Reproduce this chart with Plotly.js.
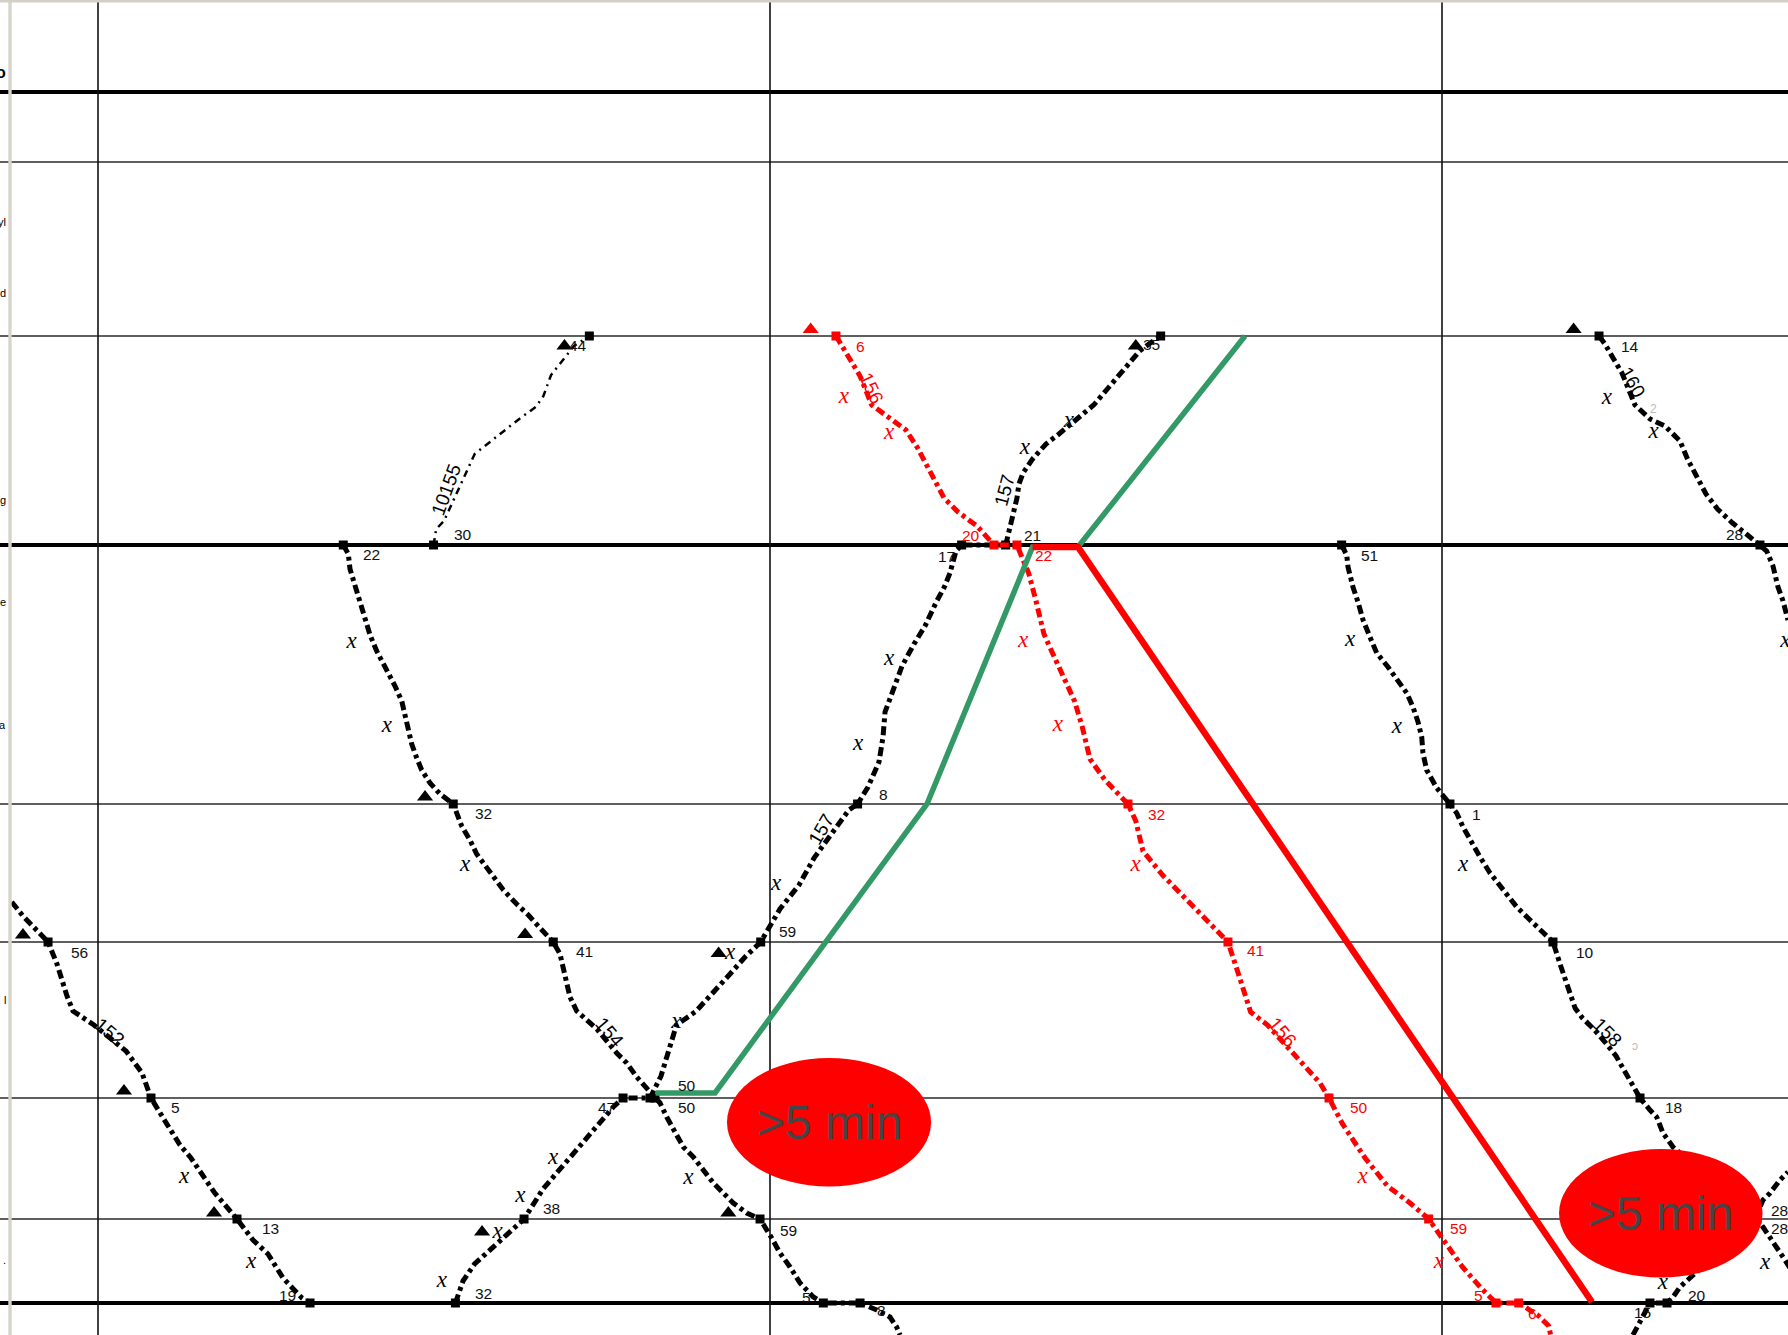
<!DOCTYPE html>
<html>
<head>
<meta charset="utf-8">
<script src="https://cdn.plot.ly/plotly-3.0.1.min.js"></script>
<style>html,body{margin:0;padding:0;background:#fff;}#chart{width:1788px;height:1335px;}</style>
</head>
<body>
<div id="chart"></div>
<script>
// ---- stations (distance, km) and hour lines (minutes) ----
const stationKm = [0, 7, 24.4, 45.3, 71.2, 85.0, 100.6, 112.7, 121.1];
const thickStations = [0, 3, 8];
const hourLines = [0, 60, 120];
const stationNameParts = ["o", "yl", "d", "ng", "pe", "a", "l", "."];
const stationNameKm = [-2.0, 13.0, 20.1, 40.8, 51.0, 63.3, 90.8, 116.8];

// ---- train paths: time (min) / distance (km) ----
const t152 = [-7.7, -6.7, -4.46, -3.66, -2.77, -2.23, -0.36, 2.5, 3.93, 4.73, 5.98, 7.32, 8.3, 10.36, 12.41, 13.84, 15.18, 16.52, 18.21, 18.93];
const km152 = [81.0, 82.4, 85.0, 87.2, 90.4, 91.9, 93.3, 95.9, 98.1, 100.6, 102.9, 105.3, 106.6, 110.0, 112.7, 114.8, 116.2, 118.6, 120.6, 121.1];

const t154 = [21.9, 22.35, 22.5, 22.95, 23.39, 23.84, 24.29, 24.88, 25.78, 26.52, 27.12, 27.41, 27.71, 28.01, 28.46, 28.9, 29.64, 30.54, 31.72, 32.47, 33.21, 33.81, 35.0, 36.19, 37.38, 38.42, 39.46, 40.65, 41.25, 41.54, 41.85, 42.14, 42.74, 43.63, 44.53, 46.31, 47.21, 48.1, 48.99, 49.73, 50.18, 50.78, 51.37, 52.26, 53.15, 54.04, 54.94, 55.83, 56.72, 57.92, 59.11, 60.15, 60.89, 61.79, 62.68, 63.87, 64.76, 68.04, 69.53, 70.71, 71.31, 71.61];
const km154 = [45.3, 46.2, 47.7, 49.4, 51.1, 52.8, 54.3, 55.9, 57.7, 59.4, 60.9, 62.3, 63.7, 65.2, 66.6, 67.8, 69.1, 70.2, 71.2, 73.4, 74.8, 76.2, 78.0, 79.8, 81.2, 82.3, 83.6, 85.0, 86.2, 87.7, 89.1, 90.5, 91.9, 92.8, 93.7, 96.1, 97.1, 98.5, 99.6, 100.6, 101.1, 102.5, 103.8, 105.5, 106.5, 107.8, 109.1, 110.1, 111.1, 112.1, 112.7, 114.6, 116.1, 117.5, 119.1, 120.5, 121.1, 121.1, 121.8, 122.5, 123.5, 124.3];

const t155 = [29.96, 30.2, 30.89, 33.63, 35.67, 37.72, 39.09, 39.77, 40.45, 41.48, 42.5, 43.87];
const km155 = [45.3, 43.7, 42.9, 36.2, 34.4, 32.6, 31.5, 30.4, 28.3, 26.9, 25.4, 24.4];

const t157 = [31.91, 32.59, 33.62, 35.98, 38.04, 39.73, 41.79, 43.53, 44.82, 46.01, 46.88, 49.29, 50.27, 51.65, 53.37, 55.09, 56.43, 57.77, 59.17, 60.89, 62.59, 63.93, 67.04, 67.82, 68.75, 69.73, 70.09, 70.27, 71.13, 71.79, 72.86, 73.84, 74.89, 75.57, 76.07, 76.61, 77.11, 81.04, 81.52, 81.88, 82.05, 82.23, 82.59, 83.44, 84.64, 85.8, 87.19, 88.9, 90.27, 91.61, 93.0, 94.02, 94.88];
const km157 = [121.1, 118.9, 117.2, 114.8, 112.7, 109.7, 107.0, 104.9, 103.2, 101.5, 100.6, 100.6, 98.4, 93.3, 91.95, 89.9, 88.2, 86.5, 85.0, 81.7, 79.3, 76.6, 71.8, 71.2, 69.5, 67.0, 64.5, 62.0, 59.5, 57.4, 55.2, 53.4, 50.9, 49.5, 48.1, 45.9, 45.3, 45.3, 43.1, 41.7, 40.6, 39.2, 38.1, 36.7, 35.2, 34.2, 32.9, 31.3, 29.5, 27.7, 25.9, 25.05, 24.4];

const t156 = [65.89, 67.04, 68.04, 69.08, 70.8, 72.14, 73.18, 74.55, 75.54, 76.79, 78.48, 80.0, 82.05, 82.41, 83.09, 83.75, 84.46, 85.14, 86.16, 87.19, 87.86, 88.57, 89.91, 91.96, 92.66, 93.3, 95.05, 98.39, 99.73, 100.89, 101.74, 102.41, 102.91, 104.42, 107.1, 109.11, 109.91, 111.12, 112.12, 113.13, 115.13, 117.14, 118.81, 120.15, 121.83, 123.48, 124.82, 126.85, 128.53, 129.53, 129.7];
const km156 = [24.4, 26.5, 28.4, 31.3, 32.7, 33.8, 35.6, 38.4, 40.6, 42.0, 43.4, 45.3, 45.3, 46.3, 48.1, 50.9, 54.2, 55.9, 58.4, 60.9, 63.4, 66.7, 68.8, 71.2, 72.9, 75.9, 78.3, 82.1, 83.8, 85.0, 87.9, 90.3, 92.0, 93.3, 96.7, 99.1, 100.6, 103.2, 104.9, 106.6, 109.4, 111.1, 112.7, 114.8, 117.5, 119.6, 121.1, 121.1, 122.3, 123.4, 124.3];

const t158 = [111.04, 111.49, 111.61, 112.05, 112.5, 112.95, 113.57, 114.17, 115.18, 115.96, 116.85, 117.41, 117.86, 118.19, 118.3, 118.63, 119.53, 120.42, 120.71, 121.31, 121.88, 122.5, 123.39, 124.29, 125.45, 126.67, 127.86, 129.02, 129.91, 130.54, 131.04, 131.52, 131.88, 132.54, 133.54, 134.55, 135.54, 136.22, 136.88, 137.68, 138.57, 139.17, 139.73, 140.63, 144.38, 148.13, 148.66, 149.29, 149.91, 150.45, 151.07];
const km158 = [45.3, 46.3, 47.5, 49.5, 51.0, 52.8, 54.5, 56.1, 57.5, 58.8, 60.1, 61.5, 63.0, 64.5, 66.1, 67.8, 69.6, 70.8, 71.2, 72.1, 73.5, 74.8, 76.5, 78.1, 79.8, 81.5, 82.8, 84.1, 85.0, 87.2, 88.9, 90.6, 91.6, 92.6, 93.7, 95.0, 96.4, 97.75, 99.1, 100.6, 101.8, 102.5, 104.1, 105.5, 109.3, 112.7, 113.5, 114.5, 115.5, 116.5, 117.6];

const t159 = [137.05, 137.95, 138.57, 140.09, 140.63, 141.25, 144.82, 147.95, 148.66, 149.29, 150.18, 150.89];
const km159 = [124.3, 122.5, 121.1, 121.1, 120.5, 119.5, 115.8, 112.7, 110.8, 110.1, 108.8, 108.0];

const t160 = [134.02, 134.55, 135.22, 136.07, 137.23, 138.57, 139.91, 141.25, 141.92, 142.92, 143.57, 144.6, 145.94, 147.28, 148.39, 148.99, 149.55, 150.0, 150.45, 150.89];
const km160 = [24.4, 25.2, 26.5, 28.1, 31.3, 32.7, 33.4, 34.9, 36.7, 38.8, 40.2, 41.7, 43.1, 44.3, 45.3, 45.9, 47.4, 49.5, 50.9, 52.8];

// delayed paths
const tGreen = [49.78, 55.09, 74.02, 83.44, 87.5, 102.41];
const kmGreen = [100.1, 100.1, 71.2, 45.5, 45.5, 24.4];
const tRed = [83.44, 87.5, 133.39];
const kmRed = [45.5, 45.5, 121.0];

// triangles & x marks
const triT = [-6.7, 2.32, 10.36, 29.2, 38.13, 56.28, 34.29, 55.41, 92.66, 41.65, 131.75];
const triKm = [84.3, 99.9, 112.1, 70.5, 84.26, 112.1, 114.0, 86.15, 25.4, 25.4, 23.75];
const triRedT = [63.63];
const triRedKm = [23.75];
const xT = [7.68, 13.66, 22.65, 25.78, 32.77, 52.71, 30.71, 35.67, 37.72, 40.63, 56.43, 51.65, 60.54, 67.86, 70.63, 82.75, 86.68, 111.79, 115.96, 121.88, 148.84, 134.72, 138.9, 150.65, 139.73];
const xKm = [108.5, 117.0, 55.0, 63.4, 77.3, 108.6, 118.9, 114.0, 110.4, 106.6, 86.15, 93.0, 79.2, 65.2, 56.7, 35.6, 32.9, 54.8, 63.5, 77.3, 117.1, 30.6, 34.0, 54.9, 119.1];
const xRedT = [66.59, 70.63, 82.59, 85.71, 92.65, 112.91, 119.73];
const xRedKm = [30.5, 34.1, 54.9, 63.3, 77.35, 108.5, 117.0];

// minute labels
const minText = ["22","30","44","32","41","50","50","47","59","5","8","59","8","17","21","35","56","5","13","19","38","32","14","28","51","1","10","18","28","28","20","15"];
const minT = [24.38,32.59,42.86,34.38,43.48,52.56,52.56,45.36,61.61,63.28,69.97,61.56,70.09,75.8,83.44,94.02,-1.61,6.96,15.36,16.88,40.45,34.46,136.79,146.16,113.57,123.04,132.77,140.63,150.1,150.1,142.77,137.86];
const minKm = [46.2,44.2,25.3,72.1,85.9,101.5,99.3,101.5,113.8,120.5,121.8,83.9,70.2,46.4,44.3,25.2,86.0,101.5,113.6,120.3,111.6,120.1,25.4,44.2,46.3,72.2,86.0,101.5,111.8,113.6,120.3,122.0];
const minRedText = ["6","20","22","32","41","50","59","5","6"];
const minRedT = [68.04,77.95,84.46,94.55,103.39,112.59,121.49,123.3,128.04];
const minRedKm = [25.4,44.3,46.3,72.2,85.8,101.5,113.6,120.3,122.15];

// train numbers
const trainText = ["152","154","156","156","157","157","158","160","10155"];
const trainT = [1.1,45.71,69.1,105.8,64.55,80.9,134.8,137.05,31.07];
const trainKm = [94.0,94.0,29.6,94.0,73.7,39.8,94.0,29.0,39.7];
const trainAngle = [40,50,65,50,-60,-75,45,60,-70];
const trainColor = ["#000","#000","#f00","#f00","#000","#000","#000","#000","#000"];

// delay notes
const noteText = [">5 min", ">5 min"];
const noteT = [65.27, 139.53];
const noteKm = [103.0, 112.1];
const noteT0 = [56.16, 130.45], noteT1 = [74.38, 148.62];
const noteKm0 = [96.6, 105.7], noteKm1 = [109.45, 118.56];

// ---- build ----
function stops(t, km) {
  const ox = [], oy = [];
  t.forEach((v, i) => { if (stationKm.some(s => Math.abs(s - km[i]) < 0.05)) { ox.push(v); oy.push(km[i]); } });
  return {x: ox, y: oy};
}
const DASH = "9px,4px,4px,4px";
const traces = [];
function train(t, km, color, width, dash) {
  traces.push({x: t, y: km, type: 'scatter', mode: 'lines', line: {color: color, width: width, dash: dash}, hoverinfo: 'skip'});
  const s = stops(t, km);
  traces.push({x: s.x, y: s.y, type: 'scatter', mode: 'markers', marker: {symbol: 'square', size: 9, color: color}, hoverinfo: 'skip'});
}
train(t152, km152, '#000', 5, DASH);
train(t154, km154, '#000', 5, DASH);
train(t155, km155, '#000', 2.5, "7px,5px,2px,5px");
train(t157, km157, '#000', 5, DASH);
train(t158, km158, '#000', 5, DASH);
train(t159, km159, '#000', 5, DASH);
train(t160, km160, '#000', 5, DASH);
train(t156, km156, '#ff0000', 5, DASH);

traces.push({x: triT, y: triKm, type: 'scatter', mode: 'markers', marker: {symbol: 'triangle-up', size: 14, color: '#000'}, hoverinfo: 'skip'});
traces.push({x: triRedT, y: triRedKm, type: 'scatter', mode: 'markers', marker: {symbol: 'triangle-up', size: 14, color: '#ff0000'}, hoverinfo: 'skip'});
traces.push({x: xT, y: xKm, type: 'scatter', mode: 'text', text: xT.map(() => 'x'), textposition: 'middle center', textfont: {family: 'Liberation Serif', size: 23, color: '#000', style: 'italic'}, hoverinfo: 'skip'});
traces.push({x: xRedT, y: xRedKm, type: 'scatter', mode: 'text', text: xRedT.map(() => 'x'), textposition: 'middle center', textfont: {family: 'Liberation Serif', size: 23, color: '#ff0000', style: 'italic'}, hoverinfo: 'skip'});

traces.push({x: tGreen, y: kmGreen, type: 'scatter', mode: 'lines', line: {color: '#339966', width: 5.5}, hoverinfo: 'skip'});
traces.push({x: tRed, y: kmRed, type: 'scatter', mode: 'lines', line: {color: '#ff0000', width: 6.5}, hoverinfo: 'skip'});

const shapes = [];
stationKm.forEach((k, i) => {
  const thick = thickStations.includes(i);
  shapes.push({type: 'line', xref: 'paper', x0: 0, x1: 1, yref: 'y', y0: k, y1: k, layer: 'below',
    line: {color: thick ? '#000' : '#2a2a2a', width: thick ? 4 : 1.6}});
});
hourLines.forEach(h => shapes.push({type: 'line', xref: 'x', x0: h, x1: h, yref: 'paper', y0: 0, y1: 1, layer: 'below', line: {color: '#111', width: 1.6}}));
shapes.push({type: 'rect', xref: 'paper', x0: 8.3 / 1788, x1: 11.7 / 1788, yref: 'paper', y0: 0, y1: 1, fillcolor: '#d8d4cc', line: {width: 0}, layer: 'above'});
shapes.push({type: 'rect', xref: 'paper', x0: 0, x1: 1, yref: 'paper', y0: 1 - 2.5 / 1335, y1: 1, fillcolor: '#d4d0c8', line: {width: 0}, layer: 'above'});
noteT.forEach((_, i) => shapes.push({type: 'circle', xref: 'x', yref: 'y', x0: noteT0[i], x1: noteT1[i], y0: noteKm0[i], y1: noteKm1[i], fillcolor: '#ff0000', line: {width: 0}, layer: 'above'}));

const ann = [];
const F = 'Liberation Sans, Arial, sans-serif';
minText.forEach((s, i) => ann.push({x: minT[i], y: minKm[i], text: s, showarrow: false, font: {family: F, size: 15.5, color: '#111'}}));
minRedText.forEach((s, i) => ann.push({x: minRedT[i], y: minRedKm[i], text: s, showarrow: false, font: {family: F, size: 15.5, color: '#ff0000'}}));
trainText.forEach((s, i) => ann.push({x: trainT[i], y: trainKm[i], text: s, showarrow: false, textangle: trainAngle[i], font: {family: F, size: 19, color: trainColor[i]}}));
ann.push({x: 138.9, y: 31.7, text: '2', showarrow: false, font: {family: F, size: 12, color: '#bbbbbb'}});
ann.push({x: 137.2, y: 95.4, text: 'ↄ', showarrow: false, font: {family: F, size: 12, color: '#bbbbbb'}});
stationNameParts.forEach((s, i) => ann.push({xref: 'paper', x: 8 / 1788, xanchor: 'right', y: stationNameKm[i], text: i === 0 ? '<b>' + s + '</b>' : s, showarrow: false, font: {family: F, size: i === 0 ? 16 : 11, color: '#000'}}));
noteText.forEach((s, i) => ann.push({x: noteT[i], y: noteKm[i], text: s, showarrow: false, font: {family: F, size: 48, color: '#454545'}}));

const layout = {
  width: 1788, height: 1335, margin: {l: 0, r: 0, t: 0, b: 0},
  paper_bgcolor: '#ffffff', plot_bgcolor: '#ffffff', showlegend: false,
  xaxis: {range: [-8.75, 150.893], visible: false, fixedrange: true},
  yaxis: {range: [124.3, -9.2], visible: false, fixedrange: true},
  shapes: shapes, annotations: ann
};
Plotly.newPlot('chart', traces, layout, {staticPlot: true, displayModeBar: false});
</script>
</body>
</html>
